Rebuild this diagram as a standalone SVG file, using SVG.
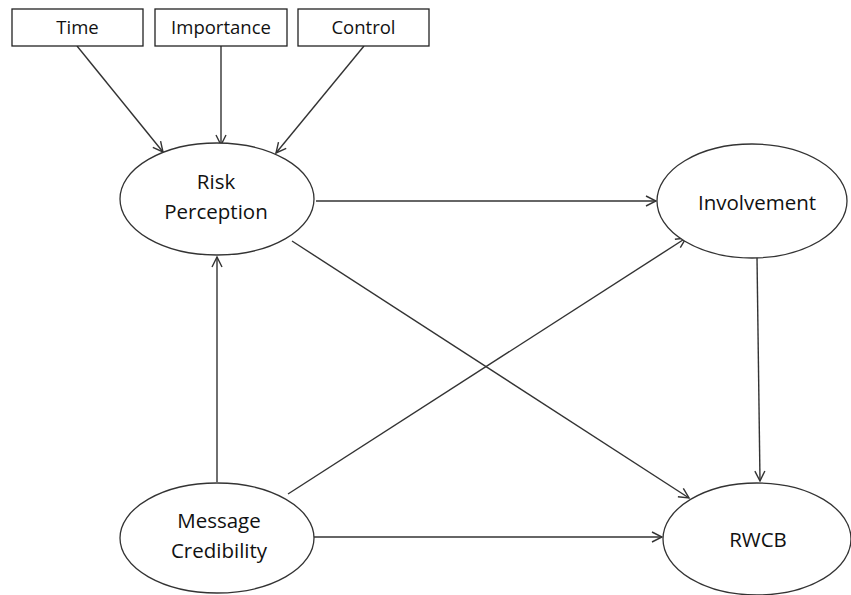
<svg xmlns="http://www.w3.org/2000/svg" width="851" height="595" viewBox="0 0 851 595">
<style>
.box{fill:#fff;stroke:#222;stroke-width:1.3}
.ell{fill:#fff;stroke:#333;stroke-width:1.3}
.t{font-family:"Open Sans","Liberation Sans",sans-serif;font-size:20.5px;fill:#111;text-anchor:middle}
.tb{font-family:"Open Sans","Liberation Sans",sans-serif;font-size:18.5px;fill:#111;text-anchor:middle}
.c{stroke:#333;stroke-width:1.4;fill:none;marker-end:url(#ah)}
</style>
<defs>
<marker id="ah" viewBox="0 0 12 12" refX="11" refY="6" markerWidth="12" markerHeight="12" markerUnits="userSpaceOnUse" orient="auto">
<path d="M1,1 L11,6 L1,11" fill="none" stroke="#333" stroke-width="1.4"/>
</marker>
</defs>
<rect width="851" height="595" fill="#fff"/>
<g id="connectors">
<line class="c" x1="77" y1="46" x2="163" y2="152"/>
<line class="c" x1="221" y1="46" x2="221" y2="145"/>
<line class="c" x1="364" y1="46" x2="276" y2="153"/>
<line class="c" x1="316" y1="201" x2="656" y2="201"/>
<line class="c" x1="292" y1="241" x2="689" y2="498"/>
<line class="c" x1="757" y1="257" x2="760" y2="481"/>
<line class="c" x1="288" y1="494" x2="686" y2="238"/>
<line class="c" x1="217" y1="482" x2="217" y2="257"/>
<line class="c" x1="313" y1="537" x2="662" y2="537"/>
</g>
<g id="time"><rect class="box" x="12" y="9" width="131" height="37"/><text class="tb" x="77.5" y="34">Time</text></g>
<g id="importance"><rect class="box" x="155" y="9" width="132" height="37"/><text class="tb" x="221" y="34">Importance</text></g>
<g id="control"><rect class="box" x="298" y="9" width="131" height="37"/><text class="tb" x="363.5" y="34">Control</text></g>
<g id="risk-perception"><ellipse class="ell" cx="217" cy="199" rx="97" ry="56"/><text class="t" x="216" y="189">Risk</text><text class="t" x="216" y="219">Perception</text></g>
<g id="involvement"><ellipse class="ell" cx="752" cy="201" rx="95" ry="57"/><text class="t" x="757" y="210">Involvement</text></g>
<g id="message-credibility"><ellipse class="ell" cx="217" cy="538" rx="97" ry="55"/><text class="t" x="219" y="528">Message</text><text class="t" x="219" y="558">Credibility</text></g>
<g id="rwcb"><ellipse class="ell" cx="757" cy="539" rx="94" ry="56"/><text class="t" x="758" y="547">RWCB</text></g>
</svg>
